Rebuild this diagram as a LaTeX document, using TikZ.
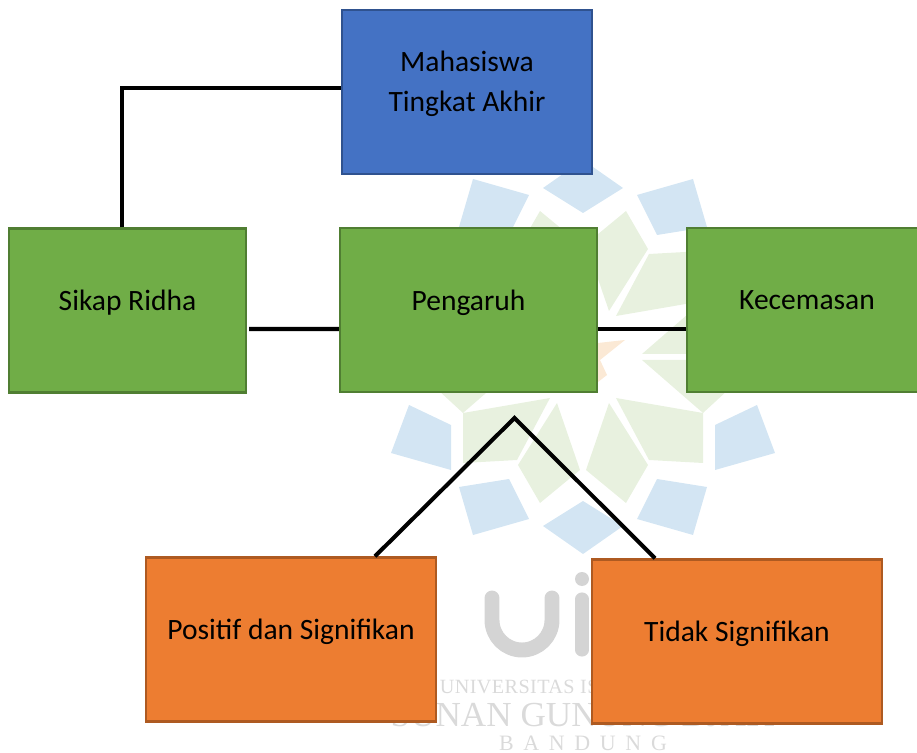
\documentclass[tikz,border=0pt]{standalone}
\usepackage{fontspec}
\setmainfont{Carlito}
\newfontfamily\markfont{Liberation Serif}
\usepackage{xcolor}
\definecolor{bluefill}{HTML}{4472C4}
\definecolor{blueline}{HTML}{2F528F}
\definecolor{greenfill}{HTML}{70AD47}
\definecolor{greenline}{HTML}{507E32}
\definecolor{orangefill}{HTML}{ED7D31}
\definecolor{orangeline}{HTML}{AE5A21}
\definecolor{markblue}{HTML}{D3E5F3}
\definecolor{markgreen}{HTML}{E8F1DF}
\definecolor{markorange}{HTML}{FBE9D5}
\definecolor{markgrey}{HTML}{D4D4D4}
\definecolor{marktext}{HTML}{DADADA}

\begin{document}
\begin{tikzpicture}[
  x=0.02cm, y=-0.02cm,
  box/.style={rectangle, draw, line width=1.4pt, inner sep=0pt, align=center, text depth=0.4cm, font=\fontsize{16.8}{22.7}\selectfont},
  bluebox/.style={box, fill=bluefill, draw=blueline, minimum width=5cm, minimum height=3.28cm, text depth=0.44cm},
  greenbox/.style={box, fill=greenfill, draw=greenline, minimum height=3.28cm},
  orangebox/.style={box, fill=orangefill, draw=orangeline, minimum width=5.8cm, minimum height=3.28cm},
  link/.style={line width=2.3pt, black},
  markword/.style={marktext, inner sep=0pt}
]
  \useasboundingbox (0,0) rectangle (917,753);

  % Watermark logo
  \begin{scope}[shift={(583,357)}]
    \fill[markblue] (-40,-169) -- (0,-197) -- (40,-169) -- (0,-144) -- cycle;
    \fill[markblue] (-40,169) -- (0,197) -- (40,169) -- (0,144) -- cycle;
    \foreach \sx in {1,-1} \foreach \sy in {1,-1} {
      \begin{scope}[xscale=\sx, yscale=\sy]
        \fill[markblue] (54,162) -- (110,178) -- (124,130) -- (74,122) -- cycle;
        \fill[markblue] (132,68) -- (174,48) -- (192,96) -- (132,113) -- cycle;
        \fill[markgreen] (120,56) -- (33,41) -- (66,103) -- (120,106) -- cycle;
        \fill[markgreen] (26,46) -- (3,113) -- (43,146) -- (65,108) -- cycle;
        \fill[markgreen] (59,3) -- (120,56) -- (170,10) -- (170,3) -- cycle;
      \end{scope}
    }
    \fill[markorange] (15,-14) -- (42,-17) -- (17,3) -- (24,18) -- (15,25) -- cycle;
  \end{scope}

  % Watermark letters
  \draw[markgrey, line width=8.5pt, line cap=round] (492,598) -- (492,620) arc[start angle=180, end angle=0, radius=30] -- (552,598);
  \draw[markgrey, line width=7.5pt, line cap=round] (582,599) -- (582,650);
  \fill[markgrey] (582,579) circle (7);
  \node[markword, font=\markfont\fontsize{11.5}{11.5}\selectfont] (markone) at (583,687) {\addfontfeature{LetterSpace=2}UNIVERSITAS ISLAM NEGERI};
  \node[markword, font=\markfont\fontsize{20}{20}\selectfont] (marktwo) at (583,715.5) {SUNAN GUNUNG DJATI};
  \node[markword, font=\markfont\fontsize{12.5}{12.5}\selectfont] (markthree) at (583,743.5) {\addfontfeature{LetterSpace=44}BANDUNG};

  % Top
  \node[bluebox] (maha) at (467,92) {Mahasiswa\\Tingkat Akhir};

  % Middle row
  \node[greenbox, minimum width=4.74cm] (sikap) at (127.5,310.5) {Sikap Ridha};
  \node[greenbox, minimum width=5.14cm] (pengaruh) at (468.5,310) {Pengaruh};
  \node[greenbox, minimum width=4.8cm] (cemas) at (807,310) {Kecemasan};

  % Results
  \node[orangebox] (positif) at (291,639.5) {Positif dan Signifikan};
  \node[orangebox] (tidak) at (737,641.5) {Tidak Signifikan};

  \coordinate (apex) at (514.5,418);

  \draw[link] ([xshift=-0.11cm]sikap.north) |- ([yshift=0.08cm]maha.west);
  \draw[link] ([yshift=-0.37cm]sikap.east) ++(0.04cm,0) -- ([yshift=-0.38cm]pengaruh.west);
  \draw[link] ([yshift=-0.38cm]pengaruh.east) -- ([yshift=-0.38cm]cemas.west);
  \draw[link] ([xshift=1.68cm]positif.north) -- (apex) -- ([xshift=-1.64cm]tidak.north);
\end{tikzpicture}
\end{document}
